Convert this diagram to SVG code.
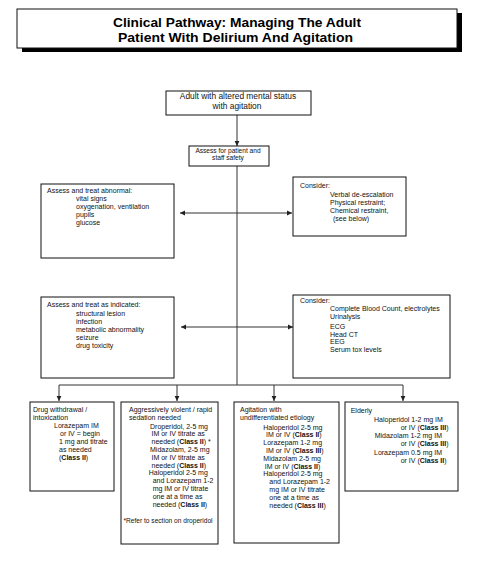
<svg xmlns="http://www.w3.org/2000/svg" width="501" height="561" viewBox="0 0 501 561">
<defs>
<marker id="ah" markerWidth="6" markerHeight="6" refX="5" refY="3" orient="auto" markerUnits="userSpaceOnUse">
<path d="M0,0.6 L5,3 L0,5.4 Z" fill="#222"/>
</marker>
<marker id="ahs" markerWidth="6" markerHeight="6" refX="1" refY="3" orient="auto" markerUnits="userSpaceOnUse">
<path d="M6,0.6 L1,3 L6,5.4 Z" fill="#222"/>
</marker>
<style>
.box{fill:#fff;stroke:#111;stroke-width:1}
.t{font-family:"Liberation Sans",Arial,sans-serif;font-size:7px;fill:#111}
.b{font-weight:bold}
.c{text-anchor:middle}
.ttl{font-family:"Liberation Sans",Arial,sans-serif;font-size:13.4px;font-weight:bold;fill:#000;text-anchor:middle}
.ln{stroke:#333;stroke-width:1;fill:none}
</style>
</defs>
<rect width="501" height="561" fill="#fff"/>
<g id="title">
<rect x="22" y="13" width="440" height="39" fill="#000"/>
<rect x="17" y="9" width="440" height="39" fill="#fff" stroke="#111" stroke-width="1"/>
<text class="ttl" x="237" y="26.6" textLength="248" lengthAdjust="spacingAndGlyphs">Clinical Pathway: Managing The Adult</text>
<text class="ttl" x="235.5" y="42" textLength="235" lengthAdjust="spacingAndGlyphs">Patient With Delirium And Agitation</text>
</g>
<g id="connectors">
<line class="ln" x1="237" y1="115" x2="237" y2="146" marker-end="url(#ah)"/>
<line class="ln" x1="237" y1="166" x2="237" y2="385"/>
<line class="ln" x1="180" y1="213" x2="292" y2="213" marker-start="url(#ahs)" marker-end="url(#ah)"/>
<line class="ln" x1="181" y1="327" x2="293" y2="327" marker-start="url(#ahs)" marker-end="url(#ah)"/>
<line class="ln" x1="59" y1="385" x2="403" y2="385"/>
<line class="ln" x1="59" y1="385" x2="59" y2="401" marker-end="url(#ah)"/>
<line class="ln" x1="177" y1="385" x2="177" y2="401" marker-end="url(#ah)"/>
<line class="ln" x1="274" y1="385" x2="274" y2="401" marker-end="url(#ah)"/>
<line class="ln" x1="403" y1="385" x2="403" y2="401" marker-end="url(#ah)"/>
</g>
<g id="start">
<rect class="box" x="166" y="91" width="145" height="24"/>
<text class="t c" style="font-size:8.4px" x="238" y="99">Adult with altered mental status</text>
<text class="t c" style="font-size:8.4px" x="237" y="108.6">with agitation</text>
</g>
<g id="safety">
<rect class="box" x="189" y="146" width="80" height="20"/>
<text class="t c" style="font-size:6.6px" x="228" y="152.6">Assess for patient and</text>
<text class="t c" style="font-size:6.6px" x="228" y="160.3">staff safety</text>
</g>
<g id="abnormal">
<rect class="box" x="41" y="184" width="133" height="74"/>
<text class="t" x="47" y="192.5">Assess and treat abnormal:</text>
<text class="t" x="76" y="201">vital signs</text>
<text class="t" x="76" y="209">oxygenation,  ventilation</text>
<text class="t" x="76" y="217">pupils</text>
<text class="t" x="76" y="225">glucose</text>
</g>
<g id="consider1">
<rect class="box" x="293" y="177" width="113" height="59"/>
<text class="t" x="300" y="187.6">Consider:</text>
<text class="t" x="330" y="197.3">Verbal de-escalation</text>
<text class="t" x="330" y="205.1">Physical restraint;</text>
<text class="t" x="330" y="212.9">Chemical restraint,</text>
<text class="t" x="333" y="220.7">(see below)</text>
</g>
<g id="indicated">
<rect class="box" x="41" y="297" width="133" height="81"/>
<text class="t" x="47" y="306.6">Assess and treat as indicated:</text>
<text class="t" x="76" y="316">structural lesion</text>
<text class="t" x="76" y="324">infection</text>
<text class="t" x="76" y="332">metabolic abnormality</text>
<text class="t" x="76" y="340">seizure</text>
<text class="t" x="76" y="348">drug toxicity</text>
</g>
<g id="consider2">
<rect class="box" x="293" y="295" width="157" height="83"/>
<text class="t" x="300" y="302.6">Consider:</text>
<text class="t" x="330" y="310.5">Complete Blood Count, electrolytes</text>
<text class="t" x="330" y="318.5">Urinalysis</text>
<text class="t" x="330" y="328.6">ECG</text>
<text class="t" x="330" y="336.5">Head CT</text>
<text class="t" x="330" y="344.4">EEG</text>
<text class="t" x="330" y="352.3">Serum tox levels</text>
</g>
<g id="withdrawal">
<rect class="box" x="30" y="402" width="84" height="89"/>
<text class="t" x="33" y="412">Drug withdrawal /</text>
<text class="t" x="33" y="420">intoxication</text>
<text class="t" x="54" y="428">Lorazepam IM</text>
<text class="t" x="60" y="436">or IV = begin</text>
<text class="t" x="59" y="444">1 mg and titrate</text>
<text class="t" x="59" y="452">as needed</text>
<text class="t" x="59" y="460">(<tspan class="b">Class II</tspan>)</text>
</g>
<g id="violent">
<rect class="box" x="121" y="402" width="97" height="142"/>
<text class="t" x="129" y="412">Aggressively violent / rapid</text>
<text class="t" x="129" y="420">sedation needed</text>
<text class="t" x="150" y="428.5">Droperidol, 2-5 mg</text>
<text class="t" x="151.5" y="436.3">IM or IV titrate as</text>
<text class="t" x="151.5" y="444.1">needed (<tspan class="b">Class II</tspan>) *</text>
<text class="t" x="150" y="452">Midazolam, 2-5 mg</text>
<text class="t" x="151.5" y="459.8">IM or IV titrate as</text>
<text class="t" x="151.5" y="467.6">needed (<tspan class="b">Class II</tspan>)</text>
<text class="t" x="148.7" y="475.4">Haloperidol 2-5 mg</text>
<text class="t" x="152.7" y="483.2">and Lorazepam 1-2</text>
<text class="t" x="152.7" y="491">mg IM or IV titrate</text>
<text class="t" x="152.7" y="498.8">one at a time as</text>
<text class="t" x="152.7" y="506.6">needed (<tspan class="b">Class II</tspan>)</text>
<text class="t" style="font-size:6.6px" x="123.5" y="523">*Refer to section on droperidol</text>
</g>
<g id="undifferentiated">
<rect class="box" x="234" y="402" width="105" height="141"/>
<text class="t" x="240" y="411.5">Agitation with</text>
<text class="t" x="240" y="419.5">undifferentiated etiology</text>
<text class="t" x="263.3" y="429.5">Haloperidol 2-5 mg</text>
<text class="t" x="266" y="437.3">IM or IV (<tspan class="b">Class II</tspan>)</text>
<text class="t" x="263.3" y="445.1">Lorazepam 1-2 mg</text>
<text class="t" x="266" y="452.9">IM or IV (<tspan class="b">Class III</tspan>)</text>
<text class="t" x="263.3" y="460.7">Midazolam 2-5 mg</text>
<text class="t" x="264.7" y="468.5">IM or IV (<tspan class="b">Class II</tspan>)</text>
<text class="t" x="263.3" y="476.3">Haloperidol 2-5 mg</text>
<text class="t" x="269.3" y="484.1">and Lorazepam 1-2</text>
<text class="t" x="269.3" y="491.9">mg IM or IV titrate</text>
<text class="t" x="269.3" y="499.7">one at a time as</text>
<text class="t" x="269.3" y="507.5">needed (<tspan class="b">Class III</tspan>)</text>
</g>
<g id="elderly">
<rect class="box" x="345" y="402" width="113" height="89"/>
<text class="t" x="350.7" y="412.5">Elderly</text>
<text class="t" x="374" y="421.5">Haloperidol 1-2 mg IM</text>
<text class="t" x="400.7" y="429.5">or IV (<tspan class="b">Class III</tspan>)</text>
<text class="t" x="374.7" y="438">Midazolam 1-2 mg IM</text>
<text class="t" x="400.7" y="446">or IV (<tspan class="b">Class III</tspan>)</text>
<text class="t" x="374" y="454.5">Lorazepam 0.5 mg IM</text>
<text class="t" x="400.7" y="462.5">or IV (<tspan class="b">Class II</tspan>)</text>
</g>
</svg>
